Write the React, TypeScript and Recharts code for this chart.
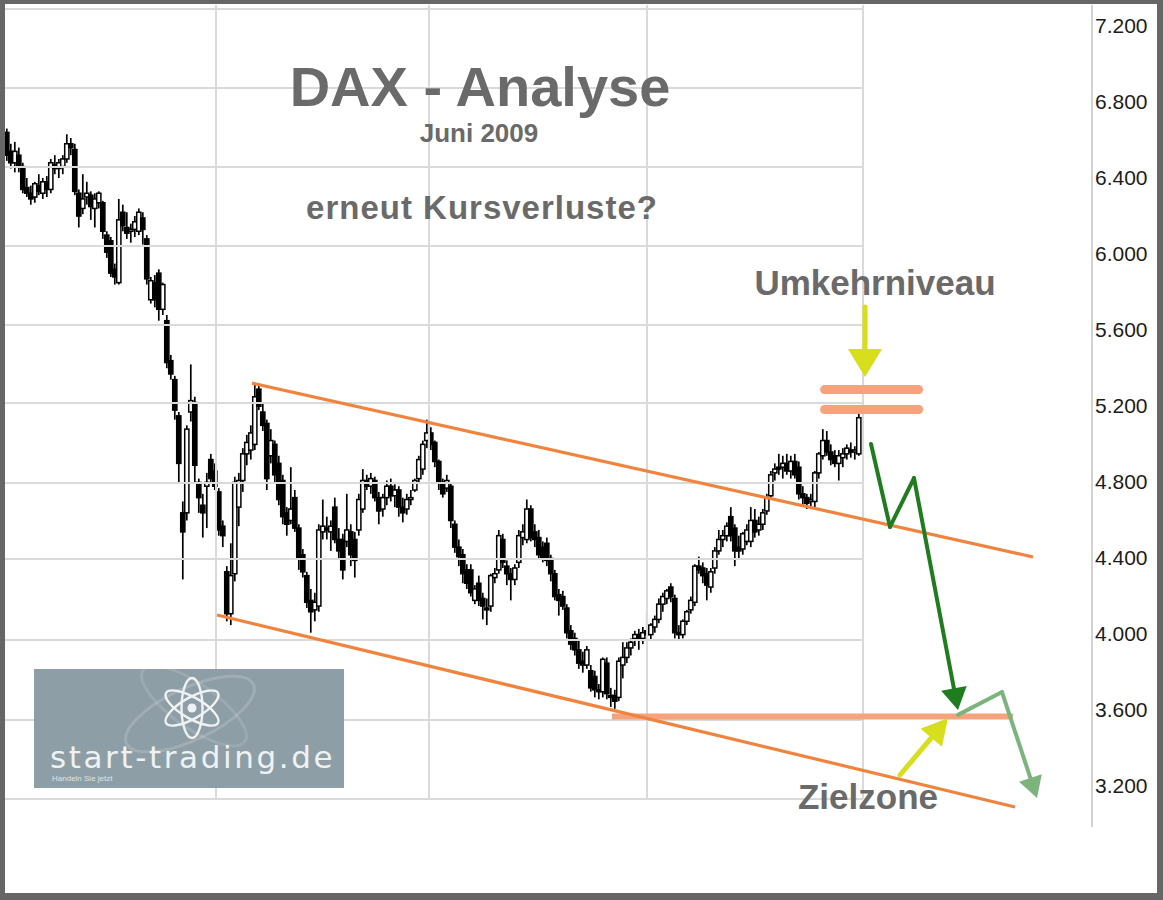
import React from 'react';
import { ComposedChart, Bar, XAxis, YAxis, ReferenceLine } from 'recharts';

// ---------- candle data (DAX, daily) ----------
const OPEN = [
  6620, 6520, 6460, 6500, 6440, 6330, 6300, 6280, 6340, 6300, 6360, 6320, 6450, 6430, 6440, 6480, 6560, 6530, 6300, 6220,
  6280, 6290, 6220, 6250, 6250, 6080, 6050, 5900, 5830, 6200, 6120, 6100, 6110, 6100, 6170, 6060, 5740, 5830, 5880, 5690,
  5630, 5420, 5320, 5130, 4620, 4620, 5150, 5200, 4780, 4660, 4760, 4900, 4840, 4730, 4550, 4310, 4090, 4300, 4650, 4790,
  4930, 4950, 4980, 5270, 5150, 5090, 4920, 4980, 4880, 4790, 4620, 4580, 4700, 4540, 4400, 4290, 4160, 4110, 4130, 4520,
  4540, 4520, 4650, 4480, 4480, 4470, 4520, 4480, 4530, 4640, 4790, 4760, 4790, 4700, 4640, 4700, 4760, 4710, 4740, 4650,
  4640, 4690, 4740, 4800, 4850, 5000, 5040, 4990, 4890, 4780, 4750, 4760, 4560, 4440, 4400, 4320, 4320, 4160, 4250, 4170,
  4120, 4130, 4280, 4320, 4480, 4340, 4300, 4270, 4360, 4490, 4480, 4640, 4520, 4490, 4440, 4460, 4380, 4300, 4190, 4180,
  4120, 4000, 3960, 3900, 3840, 3820, 3790, 3760, 3690, 3680, 3830, 3660, 3660, 3650, 3820, 3860, 3910, 3960, 3980, 3960,
  4000, 3980, 4020, 4060, 4140, 4170, 4230, 4170, 3990, 3980, 4050, 4110, 4150, 4340, 4330, 4300, 4230, 4330, 4420, 4480,
  4500, 4600, 4540, 4440, 4430, 4470, 4470, 4580, 4530, 4560, 4630, 4710, 4830, 4860, 4860, 4880, 4840, 4890, 4860, 4720,
  4700, 4680, 4680, 4830, 4920, 5000, 4940, 4920, 4880, 4910, 4930, 4950, 4940, 4930,
];
const HIGH = [
  6640, 6560, 6570, 6540, 6460, 6380, 6340, 6360, 6400, 6380, 6390, 6480, 6500, 6480, 6500, 6610, 6590, 6560, 6320, 6400,
  6360, 6310, 6300, 6310, 6260, 6100, 6070, 5930, 6270, 6240, 6200, 6140, 6180, 6220, 6200, 6080, 5860, 5870, 5900, 5830,
  5660, 5450, 5340, 5150, 4680, 5080, 5400, 5230, 4800, 4720, 4830, 4930, 4880, 4750, 4580, 4340, 4460, 4810, 4830, 4960,
  5030, 5080, 5300, 5300, 5200, 5110, 5060, 5000, 4920, 4820, 4650, 4860, 4740, 4560, 4430, 4310, 4220, 4200, 4560, 4690,
  4600, 4580, 4700, 4540, 4510, 4720, 4560, 4520, 4720, 4850, 4820, 4830, 4810, 4730, 4720, 4790, 4800, 4770, 4760, 4700,
  4720, 4740, 4800, 4920, 5000, 5110, 5070, 5000, 4900, 4800, 4820, 4780, 4580, 4480, 4430, 4350, 4350, 4240, 4290, 4200,
  4170, 4300, 4330, 4530, 4510, 4370, 4330, 4350, 4530, 4560, 4690, 4660, 4560, 4530, 4470, 4490, 4400, 4320, 4220, 4210,
  4140, 4030, 3990, 3950, 3890, 3920, 3820, 3790, 3720, 3860, 3860, 3700, 3690, 3860, 3940, 3940, 3960, 4000, 4010, 4020,
  4110, 4040, 4080, 4170, 4200, 4220, 4250, 4190, 4030, 4060, 4110, 4180, 4350, 4390, 4360, 4330, 4330, 4440, 4530, 4530,
  4570, 4650, 4560, 4500, 4520, 4560, 4650, 4640, 4600, 4640, 4720, 4840, 4880, 4930, 4920, 4930, 4920, 4930, 4890, 4760,
  4720, 4720, 4840, 4940, 5060, 5050, 4980, 4950, 4950, 4960, 4980, 4990, 4970, 5150,
];
const LOW = [
  6470, 6430, 6410, 6410, 6300, 6280, 6240, 6250, 6290, 6270, 6280, 6300, 6400, 6380, 6400, 6460, 6500, 6290, 6120, 6190,
  6240, 6160, 6120, 6220, 6060, 5960, 5860, 5820, 5820, 6100, 6060, 6040, 6070, 6080, 6030, 5820, 5720, 5700, 5630, 5660,
  5380, 5320, 5110, 4780, 4270, 4580, 5100, 4780, 4620, 4490, 4540, 4780, 4740, 4500, 4440, 4050, 4030, 4260, 4550, 4730,
  4870, 4900, 4950, 5160, 5050, 4740, 4880, 4780, 4660, 4560, 4500, 4560, 4520, 4320, 4280, 4120, 3990, 4050, 4100, 4480,
  4480, 4420, 4460, 4380, 4270, 4440, 4340, 4280, 4500, 4620, 4740, 4720, 4680, 4560, 4600, 4660, 4680, 4650, 4600, 4570,
  4610, 4660, 4730, 4780, 4820, 4960, 4950, 4860, 4740, 4700, 4730, 4540, 4410, 4340, 4250, 4220, 4180, 4140, 4130, 4060,
  4030, 4100, 4250, 4300, 4330, 4240, 4160, 4240, 4330, 4450, 4460, 4470, 4440, 4380, 4360, 4340, 4260, 4160, 4080, 4110,
  3960, 3900, 3870, 3800, 3780, 3800, 3680, 3650, 3640, 3650, 3640, 3600, 3590, 3630, 3750, 3830, 3870, 3920, 3900, 3930,
  3960, 3950, 3990, 4040, 4100, 4140, 4150, 3960, 3950, 3960, 4030, 4090, 4130, 4300, 4250, 4160, 4200, 4300, 4400, 4440,
  4470, 4470, 4340, 4380, 4400, 4450, 4440, 4490, 4500, 4530, 4610, 4690, 4790, 4820, 4800, 4820, 4800, 4800, 4690, 4660,
  4640, 4640, 4640, 4800, 4900, 4920, 4870, 4860, 4790, 4860, 4900, 4910, 4900, 4920,
];
const CLOSE = [
  6500, 6460, 6520, 6440, 6320, 6300, 6270, 6350, 6310, 6360, 6320, 6460, 6430, 6460, 6480, 6560, 6540, 6310, 6180, 6270,
  6300, 6230, 6270, 6300, 6100, 5990, 5880, 5860, 6160, 6130, 6090, 6110, 6150, 6200, 6110, 5850, 5840, 5740, 5690, 5820,
  5410, 5350, 5160, 4880, 4520, 5060, 5210, 4870, 4700, 4620, 4780, 4800, 4760, 4530, 4500, 4090, 4290, 4780, 4790, 4930,
  4990, 5040, 5230, 5180, 5080, 4800, 5000, 4820, 4690, 4600, 4560, 4640, 4540, 4380, 4310, 4150, 4100, 4150, 4530, 4550,
  4530, 4550, 4480, 4420, 4320, 4530, 4400, 4370, 4690, 4790, 4760, 4800, 4700, 4630, 4700, 4760, 4710, 4740, 4650, 4620,
  4690, 4700, 4790, 4900, 4980, 5040, 4980, 4890, 4780, 4720, 4790, 4580, 4440, 4390, 4300, 4250, 4200, 4220, 4160, 4130,
  4110, 4290, 4300, 4500, 4360, 4300, 4270, 4330, 4500, 4520, 4640, 4490, 4480, 4400, 4380, 4370, 4300, 4180, 4160, 4130,
  3990, 3930, 3900, 3830, 3820, 3900, 3700, 3690, 3680, 3850, 3670, 3650, 3630, 3840, 3860, 3910, 3940, 3980, 3960, 3990,
  3980, 4030, 4060, 4140, 4180, 4210, 4180, 3990, 3980, 4050, 4100, 4160, 4340, 4320, 4290, 4240, 4310, 4420, 4480, 4500,
  4550, 4500, 4420, 4420, 4510, 4530, 4580, 4520, 4560, 4620, 4700, 4820, 4850, 4850, 4880, 4840, 4890, 4820, 4720, 4700,
  4670, 4690, 4830, 4930, 5000, 4940, 4900, 4880, 4920, 4930, 4960, 4940, 4950, 5120,
];

// ---------- axis / grid ----------
const PRICE_TICKS = [3200, 3600, 4000, 4400, 4800, 5200, 5600, 6000, 6400, 6800, 7200];
const Y_DOMAIN: [number, number] = [2621.8, 7289.4];
const X_DOMAIN: [number, number] = [-0.5, 271.25];
const GRID_LEVELS = [7268, 6853, 6438, 6023, 5607, 5197, 4777, 4378, 3952, 3531, 3116];
const GRID_COLUMNS = [52.25, 105.5, 160, 214];
const GRID_X_RANGE = [-0.5, 214];
const GRID_Y_RANGE = [3116, 7289];
const AXIS_LINE = { i: 271.25, top: 7289, bottom: 2969 };

// ---------- annotations (index / price space) ----------
const UPPER_CHANNEL = [{ i: 61.25, p: 5302 }, { i: 256.5, p: 4388 }];
const LOWER_CHANNEL = [{ i: 52.5, p: 4083 }, { i: 252, p: 3074 }];
const TARGET_LINE = [{ i: 151.25, p: 3549 }, { i: 251.5, p: 3549 }];
const REVERSAL_LEVELS = [5268, 5163];
const REVERSAL_SPAN = [204.4, 227.9];
const REVERSAL_ARROW = [{ i: 214.5, p: 5702 }, { i: 214.5, p: 5334 }];
const FORECAST_MAIN = [{ i: 216, p: 4982 }, { i: 220.75, p: 4546 }, { i: 226.75, p: 4803 }, { i: 237.75, p: 3584 }];
const FORECAST_ALT = [{ i: 237.75, p: 3558 }, { i: 248.75, p: 3678 }, { i: 257.5, p: 3121 }];
const TARGET_ARROW = [{ i: 223.25, p: 3242 }, { i: 235.25, p: 3542 }];

const CANDLES = OPEN.map((o, i) => ({ i, o, h: HIGH[i], l: LOW[i], c: CLOSE[i] }));

const fmtPrice = (v: number) => `${Math.floor(v / 1000)}.${String(v % 1000).padStart(3, '0')}`;

const CandleShape = (props: any) => {
  const { x, y, width, height, payload } = props;
  if (!payload || x == null || y == null) return null;
  const { o, c, h, l } = payload;
  const top = Math.min(y, y + height);
  const bottom = Math.max(y, y + height);
  const k = h === l ? 0 : (bottom - top) / (h - l);
  const yOf = (v: number) => top + (h - v) * k;
  const cx = x + width / 2;
  const bt = yOf(Math.max(o, c));
  const bb = yOf(Math.min(o, c));
  const up = c >= o;
  return (
    <g>
      <line x1={cx} x2={cx} y1={top} y2={bottom} stroke="#000" strokeWidth={1.7} />
      <rect
        x={cx - 2.1}
        y={bt}
        width={4.2}
        height={Math.max(bb - bt, 1.5)}
        fill={up ? '#fff' : '#000'}
        stroke="#000"
        strokeWidth={1.5}
      />
    </g>
  );
};

const makeArrow = (color: string, width: number, headLen: number, headHalf: number) => (p: any) => {
  const { x1, y1, x2, y2 } = p;
  const dx = x2 - x1;
  const dy = y2 - y1;
  const len = Math.hypot(dx, dy) || 1;
  const ux = dx / len;
  const uy = dy / len;
  const bx = x2 - ux * headLen;
  const by = y2 - uy * headLen;
  const nx = -uy;
  const ny = ux;
  return (
    <g>
      <line x1={x1} y1={y1} x2={bx + ux * 2} y2={by + uy * 2} stroke={color} strokeWidth={width} strokeLinecap="round" />
      <polygon
        points={`${x2},${y2} ${bx + nx * headHalf},${by + ny * headHalf} ${bx - nx * headHalf},${by - ny * headHalf}`}
        fill={color}
      />
    </g>
  );
};

const PriceTick = (props: any) => {
  const { x, y, payload } = props;
  return (
    <text x={x} y={y + 10.5} textAnchor="start" fontSize={21} fill="#1c1c1c" fontFamily="'Liberation Sans', Arial, sans-serif">
      {fmtPrice(payload.value)}
    </text>
  );
};

const seg = (a: { i: number; p: number }, b: { i: number; p: number }) => [
  { x: a.i, y: a.p },
  { x: b.i, y: b.p },
];

const GREEN = '#1f7d1f';
const LIGHT_GREEN = '#7db47d';
const YELLOW = '#d6de1e';
const ORANGE = '#f0843f';
const SALMON = '#f6a27c';

const mainArrow = makeArrow(GREEN, 4, 22, 13);
const altArrow = makeArrow(LIGHT_GREEN, 4, 21, 12);
const yellowDown = makeArrow(YELLOW, 5, 28, 17);
const yellowUp = makeArrow(YELLOW, 5, 26, 14);

export default function App() {
  const textFont = "'Liberation Sans', Arial, sans-serif";
  return (
    <div style={{ position: 'absolute', left: 0, top: 0, width: 1163, height: 900, background: '#fff', fontFamily: textFont }}>
      <ComposedChart
        width={1163}
        height={900}
        data={CANDLES}
        margin={{ top: 5, right: 5, bottom: 7, left: 5 }}
        barCategoryGap={0}
      >
        <XAxis type="number" dataKey="i" domain={X_DOMAIN} allowDataOverflow hide />
        <YAxis
          type="number"
          orientation="right"
          domain={Y_DOMAIN}
          allowDataOverflow
          ticks={PRICE_TICKS}
          interval={0}
          width={66}
          tickSize={0}
          tickMargin={3}
          axisLine={false}
          tickLine={false}
          tick={<PriceTick />}
        />
        {GRID_LEVELS.map((v) => (
          <ReferenceLine
            key={`gh${v}`}
            segment={[{ x: GRID_X_RANGE[0], y: v }, { x: GRID_X_RANGE[1], y: v }]}
            stroke="#dadada"
            strokeWidth={2}
            ifOverflow="visible"
          />
        ))}
        {GRID_COLUMNS.map((v) => (
          <ReferenceLine
            key={`gv${v}`}
            segment={[{ x: v, y: GRID_Y_RANGE[0] }, { x: v, y: GRID_Y_RANGE[1] }]}
            stroke="#dadada"
            strokeWidth={2}
            ifOverflow="visible"
          />
        ))}
        <ReferenceLine
          segment={[{ x: AXIS_LINE.i, y: AXIS_LINE.top }, { x: AXIS_LINE.i, y: AXIS_LINE.bottom }]}
          stroke="#d2d2d2"
          strokeWidth={2}
          ifOverflow="visible"
        />
        <Bar dataKey={(d: any) => [d.l, d.h]} barSize={4} shape={CandleShape} isAnimationActive={false} />
        <ReferenceLine segment={seg(TARGET_LINE[0], TARGET_LINE[1])} stroke={SALMON} strokeWidth={6} ifOverflow="visible" />
        <ReferenceLine segment={seg(UPPER_CHANNEL[0], UPPER_CHANNEL[1])} stroke={ORANGE} strokeWidth={3.2} ifOverflow="visible" />
        <ReferenceLine segment={seg(LOWER_CHANNEL[0], LOWER_CHANNEL[1])} stroke={ORANGE} strokeWidth={3.2} ifOverflow="visible" />
        {REVERSAL_LEVELS.map((v) => (
          <ReferenceLine
            key={`rv${v}`}
            segment={[{ x: REVERSAL_SPAN[0], y: v }, { x: REVERSAL_SPAN[1], y: v }]}
            stroke={SALMON}
            strokeWidth={9}
            strokeLinecap="round"
            ifOverflow="visible"
          />
        ))}
        <ReferenceLine segment={seg(REVERSAL_ARROW[0], REVERSAL_ARROW[1])} shape={yellowDown} ifOverflow="visible" />
        {FORECAST_MAIN.slice(0, -2).map((pt, k) => (
          <ReferenceLine
            key={`fm${k}`}
            segment={seg(pt, FORECAST_MAIN[k + 1])}
            stroke={GREEN}
            strokeWidth={4}
            strokeLinecap="round"
            ifOverflow="visible"
          />
        ))}
        <ReferenceLine
          segment={seg(FORECAST_MAIN[FORECAST_MAIN.length - 2], FORECAST_MAIN[FORECAST_MAIN.length - 1])}
          shape={mainArrow}
          ifOverflow="visible"
        />
        {FORECAST_ALT.slice(0, -2).map((pt, k) => (
          <ReferenceLine
            key={`fa${k}`}
            segment={seg(pt, FORECAST_ALT[k + 1])}
            stroke={LIGHT_GREEN}
            strokeWidth={4}
            strokeLinecap="round"
            ifOverflow="visible"
          />
        ))}
        <ReferenceLine
          segment={seg(FORECAST_ALT[FORECAST_ALT.length - 2], FORECAST_ALT[FORECAST_ALT.length - 1])}
          shape={altArrow}
          ifOverflow="visible"
        />
        <ReferenceLine segment={seg(TARGET_ARROW[0], TARGET_ARROW[1])} shape={yellowUp} ifOverflow="visible" />
      </ComposedChart>

      <svg width={1163} height={900} style={{ position: 'absolute', left: 0, top: 0, pointerEvents: 'none' }}>
        <g fontFamily={textFont} fontWeight="bold" fill="#6a6a6a" textAnchor="middle">
          <text x={480} y={106} fontSize={56}>DAX - Analyse</text>
          <text x={479} y={142} fontSize={26}>Juni 2009</text>
          <text x={482} y={219} fontSize={33} letterSpacing={1}>erneut Kursverluste?</text>
          <text x={875} y={295} fontSize={35}>Umkehrniveau</text>
          <text x={868} y={809} fontSize={35}>Zielzone</text>
        </g>
        <g>
          <rect x={34} y={669} width={310} height={119} fill="#8e9ea6" />
          <ellipse cx={190} cy={714} rx={70} ry={26} transform="rotate(-25 190 714)" fill="none" stroke="rgba(255,255,255,0.16)" strokeWidth={3} />
          <ellipse cx={194} cy={706} rx={62} ry={22} transform="rotate(35 194 706)" fill="none" stroke="rgba(255,255,255,0.12)" strokeWidth={3} />
          {[90, 30, -30].map((a) => (
            <ellipse key={a} cx={192} cy={708} rx={30} ry={10.5} transform={`rotate(${a} 192 708)`} fill="none" stroke="#eef2f3" strokeWidth={2.4} />
          ))}
          <circle cx={192} cy={708} r={4.5} fill="#eef2f3" />
          <text x={50} y={768} fontSize={31} letterSpacing={2.6} fill="#eef2f3" fontFamily="'DejaVu Sans', Verdana, sans-serif">
            start-trading.de
          </text>
          <text x={52} y={781} fontSize={8} fill="#dde4e6" fontFamily={textFont}>
            Handeln Sie jetzt
          </text>
        </g>
      </svg>

      <div
        style={{
          position: 'absolute',
          left: 0,
          top: 0,
          width: 1163,
          height: 900,
          boxSizing: 'border-box',
          borderStyle: 'solid',
          borderColor: '#666',
          borderWidth: '4px 6px 7px 5px',
          pointerEvents: 'none',
        }}
      />
    </div>
  );
}
